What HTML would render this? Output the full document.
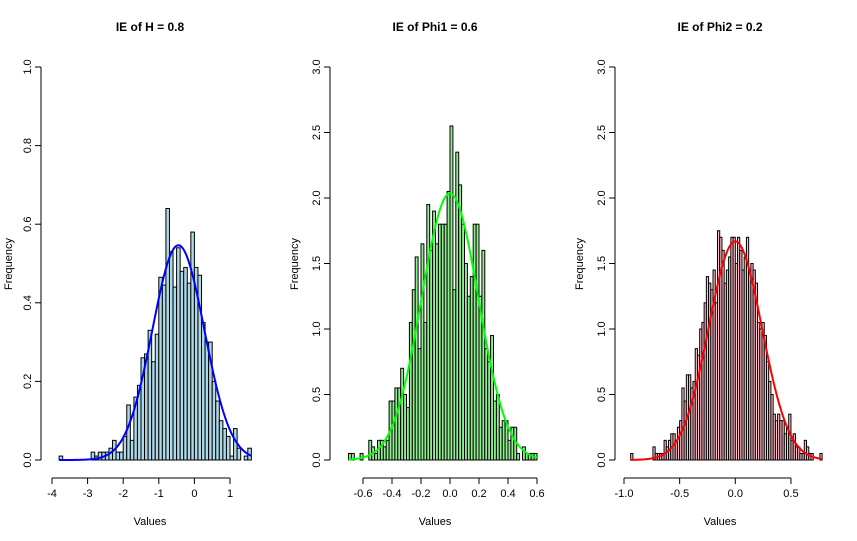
<!DOCTYPE html>
<html><head><meta charset="utf-8"><style>
body{margin:0;background:#fff;}
svg{display:block;font-family:"Liberation Sans",Arial,sans-serif;}
</style></head><body>
<svg id="c" width="857" height="541"></svg>
<script>
// Panel 1 (H)
const h1Start = -3.8, h1Width = 0.1;
const h1Values = [0.01,0,0,0,0,0,0,0,0,0.02,0.01,0.02,0.02,0.02,0.03,0.05,0.02,0.02,0.06,0.14,0.05,0.16,0.19,0.26,0.27,0.33,0.25,0.32,0.465,0.445,0.64,0.53,0.44,0.54,0.48,0.49,0.45,0.58,0.49,0.47,0.35,0.3,0.3,0.2,0.15,0.1,0.08,0.06,0.01,0.08,0.03,0,0.01,0.03];
const h1Fit = [-0.45, 0.73];
const h1XTicks = [-4,-3,-2,-1,0,1];
const h1YTicks = [0,0.2,0.4,0.6,0.8,1.0];
// Panel 2 (Phi1)
const h2Start = -0.7, h2Width = 0.02;
const h2Values = [0.05,0.05,0,0,0.05,0,0,0.15,0.1,0.05,0.15,0.15,0.1,0.15,0.45,0.45,0.55,0.55,0.7,0.5,0.4,1.05,1.3,1.55,0.85,1.65,1.05,1.95,1.6,1.9,1.65,1.8,1.8,1.8,2.05,2.55,1.3,2.35,2.1,1.8,1.5,1.25,1.4,1.8,1.8,1.25,1.6,0.85,0.75,0.95,0.45,0.5,0.25,0.3,0.3,0.15,0.25,0.25,0.05,0,0.1,0.05,0.05,0.05,0.05];
const h2Fit = [0.0, 0.196];
const h2XTicks = [-0.6,-0.4,-0.2,0.0,0.2,0.4,0.6];
const h2YTicks = [0,0.5,1.0,1.5,2.0,2.5,3.0];
// Panel 3 (Phi2)
const h3Start = -0.94, h3Width = 0.02;
const h3Values = [0.05,0,0,0,0,0,0,0,0,0,
0.1,0.05,0.05,0.05,0.05,
0.15,0.1,0.15,0.2,0.2,0.15,0.25,0.3,0.55,0.45,0.65,0.65,0.55,0.6,0.85,0.8,1.0,1.05,1.2,1.4,1.35,1.3,1.45,1.2,1.75,1.7,1.6,1.35,1.45,1.55,1.7,1.7,
1.5,1.7,1.6,1.45,1.55,1.7,1.45,1.5,1.45,1.35,1.05,1.0,1.05,0.95,0.75,0.6,0.5,0.35,0.3,0.35,0.3,0.3,0.2,0.25,0.35,0.15,0.2,0.1,0.1,0.05,0.05,0.15,0.1,0.05,0.05,0,0,0,0.05];
const h3Fit = [0.0, 0.239];
const h3XTicks = [-1.0,-0.5,0.0,0.5];
const h3XLabels = ["-1.0","-0.5","0.0","0.5"];
const h3YTicks = [0,0.5,1.0,1.5,2.0,2.5,3.0];

const NS="http://www.w3.org/2000/svg";
const svg=document.getElementById('c');
function mk(tag,attrs,parent){const e=document.createElementNS(NS,tag);for(const k in attrs)e.setAttribute(k,attrs[k]);(parent||svg).appendChild(e);return e;}

function panel(cfg){
  const g=mk('g',{});
  
  
  const X=v=>cfg.x0+(v-cfg.xa)*cfg.xs;
  const Y=v=>460-(v/cfg.ymax)*393;
  cfg.values.forEach((v,i)=>{
    if(v<=0) return;
    const a=cfg.start+i*cfg.width;
    const r=mk('rect',{x:X(a),y:Y(v),width:X(a+cfg.width)-X(a),height:Y(0)-Y(v),fill:cfg.fill,stroke:'#000','stroke-width':1},g);
    
    
  });
  const lo=cfg.start, hi=cfg.start+cfg.values.length*cfg.width;
  let d='';
  for(let i=0;i<=200;i++){const xv=lo+(hi-lo)*i/200;const yv=Math.exp(-0.5*Math.pow((xv-cfg.fit[0])/cfg.fit[1],2))/(cfg.fit[1]*Math.sqrt(2*Math.PI));d+=(i?'L':'M')+X(xv).toFixed(2)+','+Y(yv).toFixed(2);}
  const p=mk('path',{d:d,fill:'none',stroke:cfg.line,'stroke-width':2},g);
  
  
  const ya=mk('g',{},g);
  
  
  const yl=cfg.yaxisX;
  mk('line',{x1:yl,x2:yl,y1:Y(cfg.yticks[0]),y2:Y(cfg.yticks[cfg.yticks.length-1]),stroke:'#000'},ya);
  cfg.yticks.forEach(t=>{
    mk('line',{x1:yl-6,x2:yl,y1:Y(t),y2:Y(t),stroke:'#000'},ya);
    const tx=mk('text',{x:yl-10,y:Y(t),transform:`rotate(-90 ${yl-10} ${Y(t)})`,'text-anchor':'middle','font-size':11},ya);
    tx.textContent=t.toFixed(1);
  });
  const xa=mk('g',{},g);
  
  
  mk('line',{x1:X(cfg.xticks[0]),x2:X(cfg.xticks[cfg.xticks.length-1]),y1:478,y2:478,stroke:'#000'},xa);
  cfg.xticks.forEach((t,i)=>{
    mk('line',{x1:X(t),x2:X(t),y1:478,y2:484,stroke:'#000'},xa);
    const tx=mk('text',{x:X(t),y:497,'text-anchor':'middle','font-size':11},xa);
    tx.textContent=cfg.xlabels?cfg.xlabels[i]:(cfg.dec?t.toFixed(cfg.dec):String(t));
  });
  const tt=mk('text',{x:cfg.tx,y:31,'text-anchor':'middle','font-size':12,'font-weight':'bold'},g);
  
  
  tt.textContent=cfg.title;
  const xt=mk('text',{x:cfg.tx,y:525,'text-anchor':'middle','font-size':11},g);
  
  
  xt.textContent='Values';
  const yt=mk('text',{x:cfg.fx,y:264,transform:`rotate(-90 ${cfg.fx} 264)`,'text-anchor':'middle','font-size':11},g);
  
  
  yt.textContent='Frequency';
}
panel({name:'h',x0:52,xa:-4,xs:35.6,ymax:1.0,start:h1Start,width:h1Width,values:h1Values,fit:h1Fit,fill:'#add8e6',line:'#0000ff',xticks:h1XTicks,yticks:h1YTicks,yaxisX:41,title:'IE of H = 0.8',tx:150,fx:12});
panel({name:'phi1',x0:363,xa:-0.6,xs:145,ymax:3.0,start:h2Start,width:h2Width,values:h2Values,fit:h2Fit,fill:'#90ee90',line:'#00ff00',xticks:h2XTicks,yticks:h2YTicks,yaxisX:330,title:'IE of Phi1 = 0.6',tx:435,fx:298,dec:1});
panel({name:'phi2',x0:624,xa:-1.0,xs:111.3,ymax:3.0,start:h3Start,width:h3Width,values:h3Values,fit:h3Fit,fill:'#ffc0cb',line:'#ff0000',xticks:h3XTicks,xlabels:h3XLabels,yticks:h3YTicks,yaxisX:615,title:'IE of Phi2 = 0.2',tx:720,fx:583});
</script>
</body></html>
